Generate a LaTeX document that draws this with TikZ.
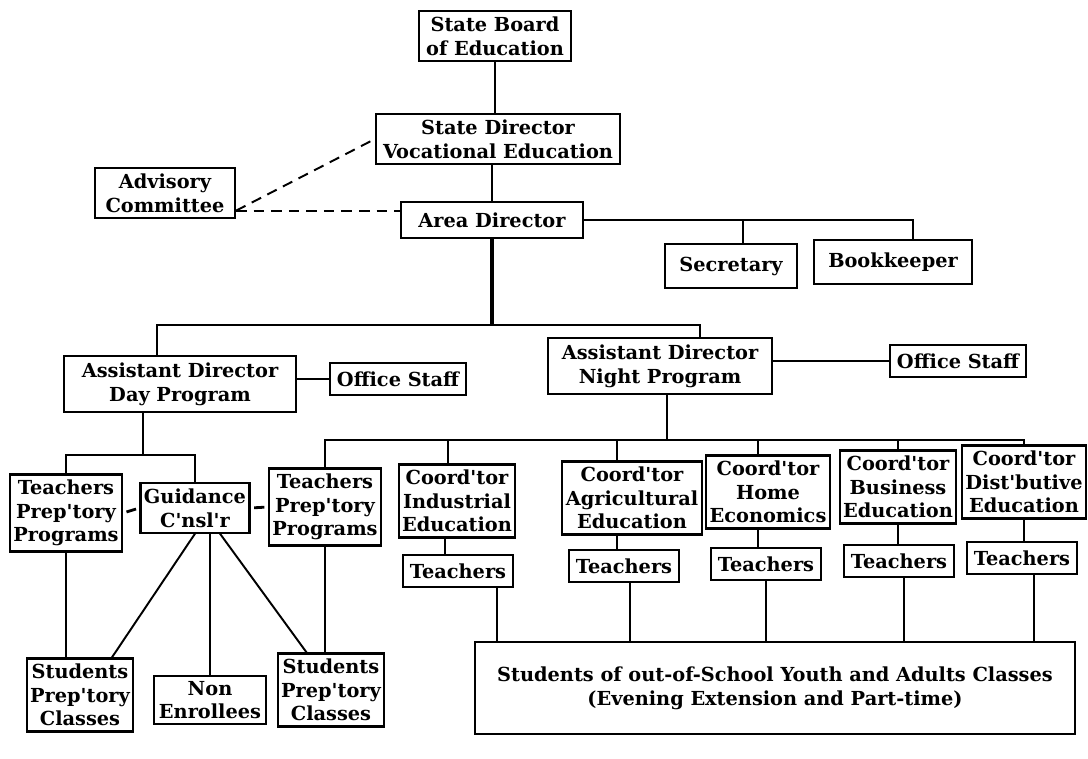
\documentclass[tikz,border=0pt]{standalone}
\usepackage{fontspec}
\setmainfont{DejaVu Serif}[Ligatures=TeXOff]
\usetikzlibrary{calc}

\tikzset{
  unit/.style={draw, line width=1.2pt, align=center, fill=white,
    font=\bfseries\fontsize{11}{13.5}\selectfont, inner xsep=4pt, inner ysep=3pt},
  link/.style={line width=1.1pt},
  advice/.style={line width=1.1pt, dash pattern=on 6pt off 4pt},
}

\begin{document}
\begin{tikzpicture}[x=0.02cm,y=-0.02cm]
\useasboundingbox (0,0) rectangle (1088,759);

% top of the chart
\node[unit] (board) at (495,36) {State Board\\of Education};
\node[unit] (statedir) at (498,139) {State Director\\Vocational Education};
\node[unit, inner xsep=6pt] (advisory) at (165,193) {Advisory\\Committee};
\node[unit, inner xsep=10pt, inner ysep=6pt] (areadir) at (492,220) {Area Director};
\node[unit, inner xsep=8pt, inner ysep=7pt] (secretary) at (731,266) {Secretary};
\node[unit, inner xsep=8pt, inner ysep=7pt] (bookkeeper) at (893,262) {Bookkeeper};

\draw[link] (board.south) -- (board.south |- statedir.north);
\draw[link] (areadir.north) -- (areadir.north |- statedir.south);
\coordinate (advjoin) at ($(advisory.south east)+(0,-8)$);
\draw[advice] (advjoin) -- (statedir.west);
\draw[advice] (advjoin) -- (areadir.west |- advjoin);
\draw[link] (areadir.east) -| ([xshift=0.4cm]bookkeeper.north);
\draw[link] ([xshift=0.24cm]secretary.north) |- (areadir.east);

% day and night programs
\node[unit, inner xsep=10pt, inner ysep=4pt] (dayprog) at (180,384) {Assistant Director\\Day Program};
\node[unit, inner ysep=5pt] (dayoffice) at (398,379) {Office Staff};
\node[unit, inner xsep=8pt, inner ysep=4pt] (nightprog) at (660,366) {Assistant Director\\Night Program};
\node[unit, inner ysep=5pt] (nightoffice) at (958,361) {Office Staff};

\coordinate (mainbus) at (492,325);
\draw[line width=2.4pt] (areadir.south) -- (mainbus);
\draw[link] ([xshift=-0.46cm]dayprog.north) |- (mainbus) -| ([xshift=0.8cm]nightprog.north);
\draw[link] (dayprog.east |- dayoffice) -- (dayoffice.west);
\draw[link] (nightprog.east |- nightoffice) -- (nightoffice.west);

% day program staff
\node[unit, inner xsep=2pt] (teachday) at (66,513) {Teachers\\Prep'tory\\Programs};
\node[unit, inner xsep=2pt] (guidance) at (195,508) {Guidance\\C'nsl'r};
\node[unit, inner xsep=2pt] (teachprep) at (325,507) {Teachers\\Prep'tory\\Programs};

\coordinate (daybus) at (143,455);
\draw[link] (daybus |- dayprog.south) -- (daybus);
\draw[link] (teachday.north) |- (daybus) -| (guidance.north);
\draw[line width=1.6pt, shorten <=2pt, shorten >=2pt] (teachday.east) -- (guidance.west);
\draw[line width=1.6pt, shorten <=2pt, shorten >=2pt] (guidance.east) -- (teachprep.west);

% night program coordinators
\node[unit, inner xsep=2pt] (industrial) at (457,501) {Coord'tor\\Industrial\\Education};
\node[unit, inner xsep=2pt] (agricult) at (632,498) {Coord'tor\\Agricultural\\Education};
\node[unit, inner xsep=2pt] (homeec) at (768,492) {Coord'tor\\Home\\Economics};
\node[unit, inner xsep=2pt] (business) at (898,487) {Coord'tor\\Business\\Education};
\node[unit, inner xsep=2pt] (distrib) at (1024,482) {Coord'tor\\Dist'butive\\Education};

\coordinate (nightbus) at (667,440);
\draw[link] (nightbus |- nightprog.south) -- (nightbus);
\draw[link] (teachprep.north) |- (nightbus) -| (distrib.north);
\draw[link] ([xshift=-0.18cm]industrial.north) -- ([xshift=-0.18cm]industrial.north |- nightbus);
\draw[link] ([xshift=-0.3cm]agricult.north) -- ([xshift=-0.3cm]agricult.north |- nightbus);
\draw[link] ([xshift=-0.2cm]homeec.north) -- ([xshift=-0.2cm]homeec.north |- nightbus);
\draw[link] (business.north) -- (business.north |- nightbus);

% teachers
\node[unit, inner ysep=5pt] (teachind) at (458,571) {Teachers};
\node[unit, inner ysep=5pt] (teachagr) at (624,566) {Teachers};
\node[unit, inner ysep=5pt] (teachhome) at (766,564) {Teachers};
\node[unit, inner ysep=5pt] (teachbus) at (899,561) {Teachers};
\node[unit, inner ysep=5pt] (teachdist) at (1022,558) {Teachers};

\draw[link] ([xshift=-0.24cm]industrial.south) -- ([xshift=-0.24cm]industrial.south |- teachind.north);
\draw[link] ([xshift=-0.3cm]agricult.south) -- ([xshift=-0.3cm]agricult.south |- teachagr.north);
\draw[link] ([xshift=-0.2cm]homeec.south) -- ([xshift=-0.2cm]homeec.south |- teachhome.north);
\draw[link] (business.south) -- (business.south |- teachbus.north);
\draw[link] (distrib.south) -- (distrib.south |- teachdist.north);

% students
\node[unit, inner xsep=2pt] (studday) at (80,695) {Students\\Prep'tory\\Classes};
\node[unit, inner xsep=3pt] (nonenr) at (210,700) {Non\\Enrollees};
\node[unit, inner xsep=2pt] (studprep) at (331,690) {Students\\Prep'tory\\Classes};
\node[unit, minimum width=12cm, minimum height=1.85cm] (evening) at (775,688)
  {Students of out-of-School Youth and Adults Classes\\(Evening Extension and Part-time)};

\draw[link] (teachday.south) -- (teachday.south |- studday.north);
\draw[link] (guidance.south) -- ([xshift=-0.45cm]studday.north east);
\draw[link] (nonenr.north |- guidance.south) -- (nonenr.north);
\draw[link] ([xshift=0.5cm]guidance.south) -- ([xshift=0.6cm]studprep.north west);
\draw[link] (teachprep.south) -- (teachprep.south |- studprep.north);

\draw[link] ([xshift=0.78cm]teachind.south) -- ([xshift=0.78cm]teachind.south |- evening.north);
\draw[link] ([xshift=0.12cm]teachagr.south) -- ([xshift=0.12cm]teachagr.south |- evening.north);
\draw[link] (teachhome.south) -- (teachhome.south |- evening.north);
\draw[link] ([xshift=0.1cm]teachbus.south) -- ([xshift=0.1cm]teachbus.south |- evening.north);
\draw[link] ([xshift=0.24cm]teachdist.south) -- ([xshift=0.24cm]teachdist.south |- evening.north);
\end{tikzpicture}
\end{document}
